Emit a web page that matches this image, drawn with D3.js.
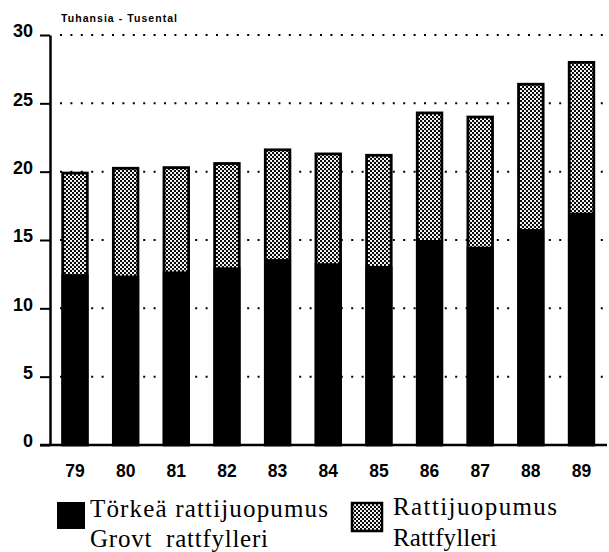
<!DOCTYPE html>
<html>
<head>
<meta charset="utf-8">
<script src="https://cdn.jsdelivr.net/npm/d3@7"></script>
<style>
	body { margin: 0; background: #fff; }
	svg { display: block; }
</style>
</head>
<body>
<svg></svg>
<script>
const years = ['79', '80', '81', '82', '83', '84', '85', '86', '87', '88', '89']
// tuhansia, luettu kuvasta
const grovt = [12.5, 12.4, 12.7, 13.0, 13.6, 13.3, 13.1, 15.0, 14.5, 15.8, 17.0]
const total = [20.0, 20.35, 20.4, 20.7, 21.7, 21.4, 21.3, 24.4, 24.1, 26.5, 28.1]
const yTicks = [0, 5, 10, 15, 20, 25, 30]
const unitLabel = 'Tuhansia - Tusental'
const legendLines = [
	['Törkeä rattijuopumus', 'Grovt  rattfylleri'],
	['Rattijuopumus', 'Rattfylleri']
]

const width = 609,
	height = 552

const svg = d3.select('svg')
	.attr('width', width)
	.attr('height', height)

// rasterikuvio
const pat = svg.append('defs')
	.append('pattern')
	.attr('id', 'dots')
	.attr('width', 4)
	.attr('height', 4)
	.attr('patternUnits', 'userSpaceOnUse')
pat.append('rect').attr('width', 4).attr('height', 4).attr('fill', '#fff')
pat.append('circle').attr('cx', 1).attr('cy', 1).attr('r', 1.15).attr('fill', '#000')
pat.append('circle').attr('cx', 3).attr('cy', 3).attr('r', 1.15).attr('fill', '#000')

const x = d3.scaleBand()
	.domain(years)
	.range([50, 606.5])
	.paddingInner(0.467)
	.paddingOuter(0.227)

const y = d3.scaleLinear()
	.domain([0, 30])
	.range([445, 35])

// pisteviivat
svg.append('g')
	.selectAll('line')
	.data(yTicks.filter(d => d > 0))
	.enter()
	.append('line')
	.attr('x1', 60)
	.attr('x2', width)
	.attr('y1', d => y(d))
	.attr('y2', d => y(d))
	.attr('stroke', '#000')
	.attr('stroke-width', 2)
	.attr('stroke-dasharray', '2,8.4')

const bar = svg.append('g')
	.selectAll('g')
	.data(years)
	.enter()
	.append('g')

bar.append('rect')
	.attr('x', d => x(d) + 1.2)
	.attr('y', (d, i) => y(total[i]) + 1.4)
	.attr('width', x.bandwidth() - 2.4)
	.attr('height', (d, i) => y(0) - y(total[i]) - 1.4)
	.attr('fill', 'url(#dots)')
	.attr('stroke', '#000')
	.attr('stroke-width', 2.8)

bar.append('rect')
	.attr('x', d => x(d))
	.attr('y', (d, i) => y(grovt[i]))
	.attr('width', x.bandwidth())
	.attr('height', (d, i) => y(0) - y(grovt[i]))
	.attr('fill', '#000')

// y-akseli
const yAxis = svg.append('g')
	.attr('transform', 'translate(50,0)')
	.call(d3.axisLeft(y).tickValues(yTicks).tickSize(10).tickSizeOuter(0).tickPadding(7))
yAxis.select('.domain').attr('stroke-width', 2.5)
yAxis.selectAll('.tick line').attr('stroke-width', 2)
yAxis.selectAll('.tick text')
	.attr('dy', '0.1em')
	.attr('font-family', 'Liberation Sans, Arial, sans-serif')
	.attr('font-size', 18)
	.attr('font-weight', 'bold')
	.attr('fill', '#000')

// perusviiva
svg.append('line')
	.attr('x1', 40)
	.attr('x2', 607)
	.attr('y1', y(0))
	.attr('y2', y(0))
	.attr('stroke', '#000')
	.attr('stroke-width', 2.5)

svg.append('g')
	.selectAll('text')
	.data(years)
	.enter()
	.append('text')
	.attr('x', d => x(d) + x.bandwidth() / 2)
	.attr('y', 477)
	.attr('text-anchor', 'middle')
	.attr('font-family', 'Liberation Sans, Arial, sans-serif')
	.attr('font-size', 17.5)
	.attr('font-weight', 'bold')
	.text(d => d)

svg.append('text')
	.attr('x', 61)
	.attr('y', 22)
	.attr('font-family', 'Liberation Sans, Arial, sans-serif')
	.attr('font-size', 10.5)
	.attr('font-weight', 'bold')
	.attr('textLength', 116)
	.text(unitLabel)

// selite
const legend = svg.append('g')
legend.append('rect')
	.attr('x', 57).attr('y', 502)
	.attr('width', 28).attr('height', 27)
	.attr('fill', '#000')
legend.append('rect')
	.attr('x', 352).attr('y', 503)
	.attr('width', 30).attr('height', 28)
	.attr('fill', 'url(#dots)')
	.attr('stroke', '#000')
	.attr('stroke-width', 2.5)

const lx = [90, 393]
const ly = [[517, 547], [515, 546]]
const lw = [[238, 178], [164, 104]]
legendLines.forEach((lines, k) => {
	lines.forEach((t, j) => {
		legend.append('text')
			.attr('x', lx[k])
			.attr('y', ly[k][j])
			.attr('font-family', 'Liberation Serif, Times New Roman, serif')
			.attr('font-size', 25)
			.attr('textLength', lw[k][j])
			.attr('lengthAdjust', 'spacing')
			.style('white-space', 'pre')
			.text(t)
	})
})
</script>
</body>
</html>
